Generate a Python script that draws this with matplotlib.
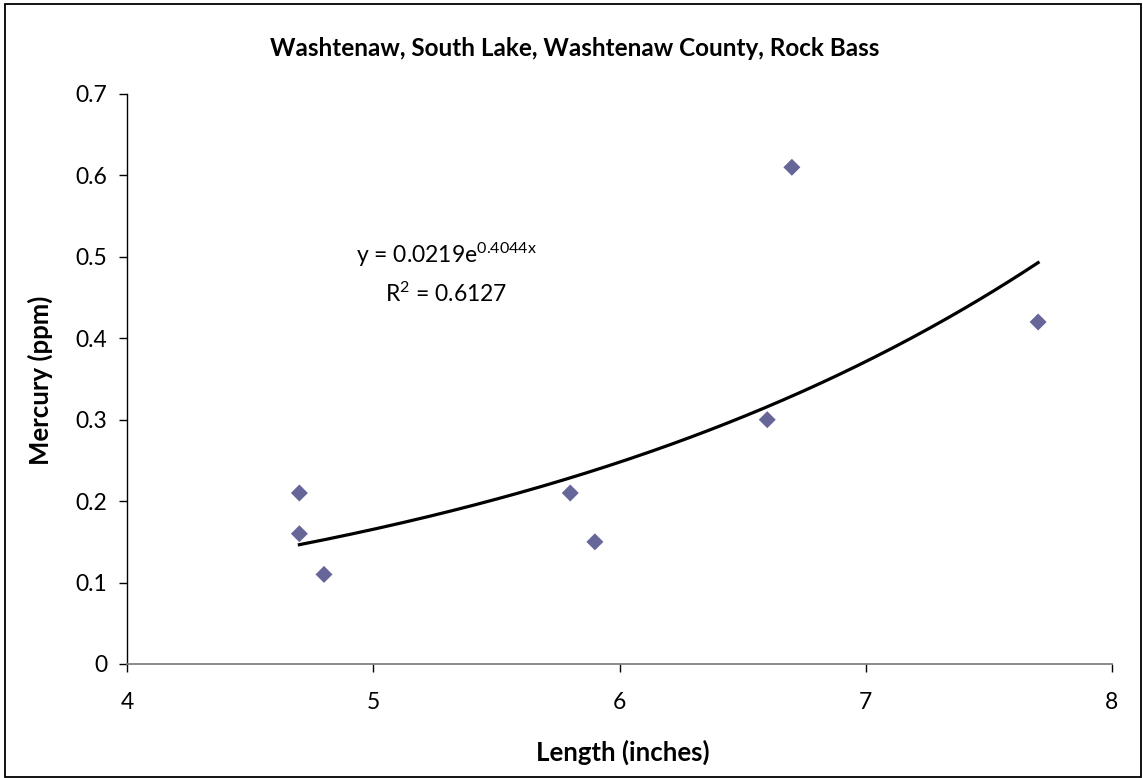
import numpy as np
import matplotlib
matplotlib.use("Agg")
import matplotlib.pyplot as plt
from matplotlib.patches import Rectangle

plt.rcParams['font.family'] = ['Lato', 'DejaVu Sans']
plt.rcParams['mathtext.fontset'] = 'custom'
plt.rcParams['mathtext.rm'] = 'Lato'
plt.rcParams['mathtext.it'] = 'Lato:italic'
plt.rcParams['mathtext.bf'] = 'Lato:bold'

title = "Washtenaw, South Lake, Washtenaw County, Rock Bass"
xlabel = "Length (inches)"
ylabel = "Mercury (ppm)"
length = [4.7, 4.7, 4.8, 5.8, 5.9, 6.6, 6.7, 7.7]
mercury = [0.21, 0.16, 0.11, 0.21, 0.15, 0.30, 0.61, 0.42]
coef_a = 0.0219
coef_b = 0.4044
r2 = 0.6127
xticks = [4, 5, 6, 7, 8]
yticks = [0, 0.1, 0.2, 0.3, 0.4, 0.5, 0.6, 0.7]

W, H = 1143, 778
fig = plt.figure(figsize=(W/100, H/100), dpi=100)
ax = fig.add_axes([127/W, 1-664/H, (1112-127)/W, (664-94)/H])

ax.scatter(length, mercury, marker='D', s=75, color='#666699', edgecolors='none', zorder=3)
xs = np.linspace(min(length), max(length), 200)
ax.plot(xs, coef_a*np.exp(coef_b*xs), color='black', lw=2.3, zorder=2)

ax.set_xlim(4, 8)
ax.set_ylim(0, 0.7)
ax.set_xticks(xticks)
ax.set_xticklabels([str(v) for v in xticks])
ax.set_yticks(yticks)
ax.set_yticklabels(['0' if v == 0 else f'{v:.1f}' for v in yticks])
for s in ['top', 'right']:
    ax.spines[s].set_visible(False)
ax.spines['left'].set_color('black')
ax.spines['bottom'].set_color('#808080')
ax.spines['left'].set_linewidth(1.0)
ax.spines['bottom'].set_linewidth(1.3)
ax.tick_params(axis='both', direction='out', length=6, width=1, labelsize=16.5, colors='black')
ax.tick_params(axis='x', pad=14)
ax.tick_params(axis='y', pad=8)

ax.text((446-127)/246.25 + 4, 0.502, r'y = 0.0219e$^{\mathrm{0.4044x}}$', fontsize=16.5, ha='center', va='center')
ax.text((446-127)/246.25 + 4, 0.454, r'R$^{\mathrm{2}}$ = 0.6127', fontsize=16.5, ha='center', va='center')

fig.text(575/W, 1-48/H, title, fontsize=17.5, fontweight='bold', ha='center', va='center')
fig.text(623/W, 1-752/H, xlabel, fontsize=18.5, fontweight='bold', ha='center', va='center')
fig.text(40/W, 1-380/H, ylabel, fontsize=18.5, fontweight='bold', ha='center', va='center', rotation=90)

fig.patches.append(Rectangle((5/W, 1/H), (W-7)/W, (H-5)/H, transform=fig.transFigure,
                             fill=False, edgecolor='black', lw=1.3))
fig.savefig('out.png', dpi=100)
